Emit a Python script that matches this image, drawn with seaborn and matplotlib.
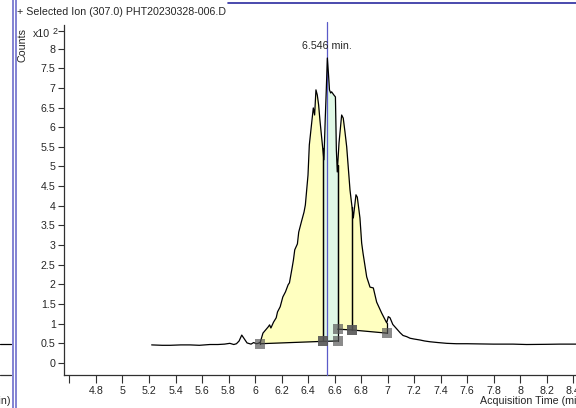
import numpy as np
import pandas as pd
import matplotlib
matplotlib.use("Agg")
import matplotlib.pyplot as plt
import seaborn as sns

# ---------------- data ----------------
time_min = [5.22, 5.30, 5.36, 5.44, 5.51, 5.58, 5.66, 5.72, 5.77, 5.81, 5.84, 5.86, 5.88, 5.90,
            5.92, 5.94, 5.97, 5.99, 6.01, 6.025, 6.04, 6.06, 6.08, 6.10, 6.11, 6.12, 6.14, 6.16,
            6.17, 6.19, 6.21, 6.23, 6.25, 6.26, 6.28, 6.29, 6.30, 6.32, 6.33, 6.35, 6.37, 6.38,
            6.40, 6.41, 6.43, 6.44, 6.45, 6.46, 6.47, 6.48, 6.49, 6.505, 6.520, 6.530, 6.538,
            6.546, 6.554, 6.562, 6.571, 6.578, 6.595, 6.607, 6.614, 6.621, 6.634, 6.654, 6.666,
            6.679, 6.692, 6.717, 6.742, 6.762, 6.772, 6.792, 6.805, 6.815, 6.843, 6.868, 6.893,
            6.918, 6.956, 6.994, 7.006, 7.019, 7.040, 7.069, 7.095, 7.117, 7.145, 7.170, 7.20,
            7.245, 7.28, 7.321, 7.38, 7.447, 7.52, 7.60, 7.698, 7.80, 7.947, 8.05, 8.201, 8.30,
            8.43]
counts_e2 = [0.46, 0.45, 0.45, 0.46, 0.46, 0.45, 0.47, 0.47, 0.48, 0.50, 0.47, 0.49, 0.56, 0.71,
             0.61, 0.51, 0.48, 0.52, 0.49, 0.50, 0.53, 0.76, 0.84, 0.92, 0.97, 0.89, 1.04, 1.15,
             1.30, 1.43, 1.68, 1.81, 1.99, 2.04, 2.42, 2.62, 2.88, 3.03, 3.33, 3.59, 3.84, 4.02,
             4.78, 5.55, 6.18, 6.49, 6.31, 6.95, 6.82, 6.57, 6.18, 5.67, 5.17, 6.20, 6.95,
             7.76, 7.38, 6.95, 6.87, 6.90, 6.82, 6.77, 5.42, 4.86, 5.60, 6.31, 6.23,
             5.88, 5.50, 4.40, 3.69, 4.28, 4.22, 3.69, 3.05, 2.80, 2.19, 1.93, 1.91,
             1.55, 1.27, 1.02, 1.18, 1.15, 0.98, 0.87, 0.77, 0.70, 0.67, 0.63, 0.61,
             0.585, 0.56, 0.54, 0.52, 0.50, 0.49, 0.49, 0.485, 0.48, 0.48, 0.47, 0.475, 0.48,
             0.48]

peak_start = [6.038, 6.511, 6.624, 6.732]
peak_end = [6.511, 6.624, 6.732, 6.994]
base_start = [0.49, 0.55, 0.86, 0.84]
base_end = [0.55, 0.56, 0.84, 0.76]
peak_colors = ["#ffffc0", "#e0f8e6", "#ffffc0", "#ffffc0"]

apex_time = 6.546
apex_label = "6.546 min."
title = "+ Selected Ion (307.0) PHT20230328-006.D"
x_ticks = [4.6, 4.8, 5.0, 5.2, 5.4, 5.6, 5.8, 6.0, 6.2, 6.4, 6.6, 6.8, 7.0, 7.2, 7.4, 7.6,
           7.8, 8.0, 8.2, 8.4]
y_ticks = [0, 0.5, 1, 1.5, 2, 2.5, 3, 3.5, 4, 4.5, 5, 5.5, 6, 6.5, 7, 7.5, 8]
x_label = "Acquisition Time (min)"
y_label = "Counts"

# ---------------- style ----------------
sns.set_style("white")
plt.rcParams["font.family"] = ["Liberation Sans", "DejaVu Sans"]

W, H = 576, 408
fig = plt.figure(figsize=(W / 100, H / 100), dpi=100)
FS = 7.7


def fx(px):
    return px / W


def fy(py):
    return 1 - py / H


ax_left, ax_right, ax_top, ax_bottom = 64, 576, 25, 374.5
ax = fig.add_axes([fx(ax_left), fy(ax_bottom), fx(ax_right - ax_left), (ax_bottom - ax_top) / H])

xmin, xmax = 4.5585, 8.4226
ymin, ymax = -0.293, 8.60
ax.set_xlim(xmin, xmax)
ax.set_ylim(ymin, ymax)

df = pd.DataFrame({"t": time_min, "c": counts_e2})
t = np.array(time_min)
c = np.array(counts_e2)

# integrated peak regions
for s, e, b0, b1, col in zip(peak_start, peak_end, base_start, base_end, peak_colors):
    m = (t > s) & (t < e)
    xs = np.concatenate([[s], t[m], [e]])
    ys = np.interp(xs, t, c)
    ys[1:-1] = c[m]
    base = np.interp(xs, [s, e], [b0, b1])
    ax.fill_between(xs, base, ys, color=col, lw=0, zorder=2)
    ax.plot([s, e], [b0, b1], color="black", lw=0.9, zorder=3)
    ax.plot([s, s], [b0, ys[0]], color="black", lw=0.9, zorder=3)
    ax.plot([e, e], [b1, ys[-1]], color="black", lw=0.9, zorder=3)

ax.axvline(apex_time, ymin=0, ymax=1.01, clip_on=False, color="#5a5ac8", lw=0.9, zorder=3.5)

sns.lineplot(data=df, x="t", y="c", ax=ax, color="black", lw=0.9, zorder=4,
             estimator=None, sort=False)

ax.scatter(peak_start + peak_end, base_start + base_end, marker="s", s=46,
           color="#555555", alpha=0.68, linewidths=0, zorder=5)

ax.text(apex_time, 7.95, apex_label, ha="center", va="bottom", fontsize=FS, zorder=6)

# axes styling
for sp in ["top", "right"]:
    ax.spines[sp].set_visible(False)
for sp in ["left", "bottom"]:
    ax.spines[sp].set_color("#303030")
    ax.spines[sp].set_linewidth(0.9)

ax.set_xticks(x_ticks)
ax.set_xticklabels(["" if abs(v - 4.6) < 1e-9 else f"{v:g}" for v in x_ticks])
ax.set_yticks(y_ticks + [8.45])
ax.set_yticklabels([f"{v:g}" for v in y_ticks] + [""])
ax.tick_params(axis="x", direction="out", length=6, width=0.8, color="#303030",
               labelsize=FS, pad=2, bottom=True)
ax.tick_params(axis="y", direction="out", length=4, width=0.8, color="#303030",
               labelsize=FS, pad=2, left=True)
ax.set_xlabel("")
ax.set_ylabel("")

# texts around
fig.text(fx(17), fy(12), title, ha="left", va="center", fontsize=FS)
fig.text(fx(22), fy(45), y_label, ha="center", va="center", rotation=90, fontsize=FS)
fig.text(fx(33), fy(34), "x10", ha="left", va="center", fontsize=FS)
fig.text(fx(53), fy(31), "2", ha="left", va="center", fontsize=6.5)
fig.text(fx(480), fy(401), x_label, ha="left", va="center", fontsize=FS)

# left sliver of the neighbouring panel
fig.add_artist(plt.Line2D([0, fx(11)], [fy(344), fy(344)], color="black", lw=0.9))
fig.add_artist(plt.Line2D([0, fx(11)], [fy(375), fy(375)], color="#303030", lw=0.9))
fig.text(fx(11), fy(401), "(min)", ha="right", va="center", fontsize=FS)
for xp in (12.5, 15.5):
    fig.add_artist(plt.Line2D([fx(xp), fx(xp)], [0, 1], color="#6060c8", lw=1.1))
fig.add_artist(plt.Line2D([fx(228), 1], [fy(3), fy(3)], color="#2a2aa0", lw=1.2))

fig.savefig("out.png", dpi=100)
